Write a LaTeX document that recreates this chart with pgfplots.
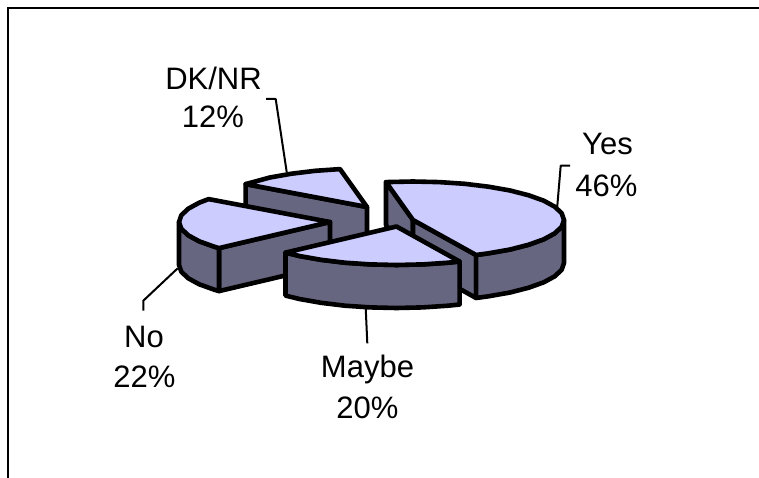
\documentclass[border=0pt]{standalone}
\usepackage{pgfplots}
\pgfplotsset{compat=1.18}
\usepackage{fontspec}
\setmainfont{Liberation Sans}
\definecolor{pietop}{HTML}{CCCCFF}
\definecolor{pieside}{HTML}{666680}
\pgfplotsset{
  leader/.style={black, line width=2pt, no markers, line join=round},
  face/.style={draw=black, line width=4.6pt, no markers, line join=round, line cap=round},
  topface/.style={face, fill=pietop},
  sideface/.style={face, fill=pieside},
}
\newcommand{\lbl}[3]{\node[anchor=base, inner sep=0pt, font=\fontsize{31}{36}\selectfont] at (axis cs:#1,#2) {#3};}
\begin{document}
\begin{tikzpicture}
\useasboundingbox (0,0) rectangle (759pt,478pt);
\begin{axis}[
  at={(0,0)}, anchor=south west,
  scale only axis, width=759pt, height=478pt,
  xmin=0, xmax=759, ymin=0, ymax=478, y dir=reverse,
  hide axis, clip=true,
]
% outer frame: left and top edges only
\addplot[black, line width=2pt, no markers] coordinates {(8,478) (8,7.7) (759,7.7)};

% leader lines
\addplot[leader] coordinates {(556.7,213) (560.7,165.7) (570,165.7)};
\addplot[leader] coordinates {(266,99) (275.7,99) (286.7,172)};
\addplot[leader] coordinates {(143.3,310.7) (143.3,300.7) (177.7,268.3)};
\addplot[leader] coordinates {(365.7,308) (367.3,343.3)};

% DK/NR 12%
\addplot[sideface] coordinates {(245.6,184.1) (367,207) (367,250) (245.6,227.1) (245.6,184.1)};
\addplot[topface] coordinates {(367,207) (245.6,184.1) (269.9,177.5) (291.5,173.7) (315.4,170.8) (340,169.1) (367,207)};

% No 22%
\addplot[sideface] coordinates {(219,248.1) (330,222) (330,265) (219,291.1) (219,248.1)};
\addplot[sideface] coordinates {(179,222) (181.3,228.7) (188.1,235.2) (199.2,241.3) (214.3,246.7) (219,248.1)
  (219,291.1) (214.3,289.7) (199.2,284.3) (188.1,278.2) (181.3,271.7) (179,265) (179,222)};
\addplot[topface] coordinates {(330,222) (208.6,199.1) (199.2,202.7) (188.1,208.8) (181.3,215.3) (179,222)
  (181.3,228.7) (188.1,235.2) (199.2,241.3) (214.3,246.7) (219,248.1) (330,222)};

% Yes 46%
\addplot[sideface] coordinates {(386,182.1) (413,220) (413,263) (386,225.1) (386,182.1)};
\addplot[sideface] coordinates {(413,220) (476.1,255) (476.1,298) (413,263) (413,220)};
\addplot[sideface] coordinates {(564,220) (561.7,226.7) (554.9,233.2) (543.8,239.3) (528.7,244.7) (510.1,249.5) (488.5,253.3) (476.1,255)
  (476.1,298) (488.5,296.3) (510.1,292.5) (528.7,287.7) (543.8,282.3) (554.9,276.2) (561.7,269.7) (564,263) (564,220)};
\addplot[topface] coordinates {(413,220) (386,182.1) (413,181.5) (439.2,182.1) (464.6,183.8) (488.5,186.7) (510.1,190.5) (528.7,195.3)
  (543.8,200.7) (554.9,206.8) (561.7,213.3) (564,220) (561.7,226.7) (554.9,233.2) (543.8,239.3) (528.7,244.7) (510.1,249.5) (488.5,253.3) (476.1,255) (413,220)};

% Maybe 20%
\addplot[sideface] coordinates {(285.5,252.6) (299.4,256) (321,259.8) (344.9,262.7) (370.3,264.4) (396.5,265) (422.7,264.4) (448.1,262.7) (459.6,261.5)
  (459.6,304.5) (448.1,305.7) (422.7,307.4) (396.5,308) (370.3,307.4) (344.9,305.7) (321,302.8) (299.4,299) (285.5,295.6) (285.5,252.6)};
\addplot[topface] coordinates {(396.5,226.5) (285.5,252.6) (299.4,256) (321,259.8) (344.9,262.7) (370.3,264.4) (396.5,265) (422.7,264.4) (448.1,262.7) (459.6,261.5) (396.5,226.5)};

% slice labels
\lbl{607.5}{155}{Yes}
\lbl{606.5}{196.7}{46\%}
\lbl{367.5}{377}{Maybe}
\lbl{367.5}{418}{20\%}
\lbl{144}{347}{No}
\lbl{144.5}{387}{22\%}
\lbl{213.5}{90}{DK/NR}
\lbl{213}{128}{12\%}
\end{axis}
\end{tikzpicture}
\end{document}
